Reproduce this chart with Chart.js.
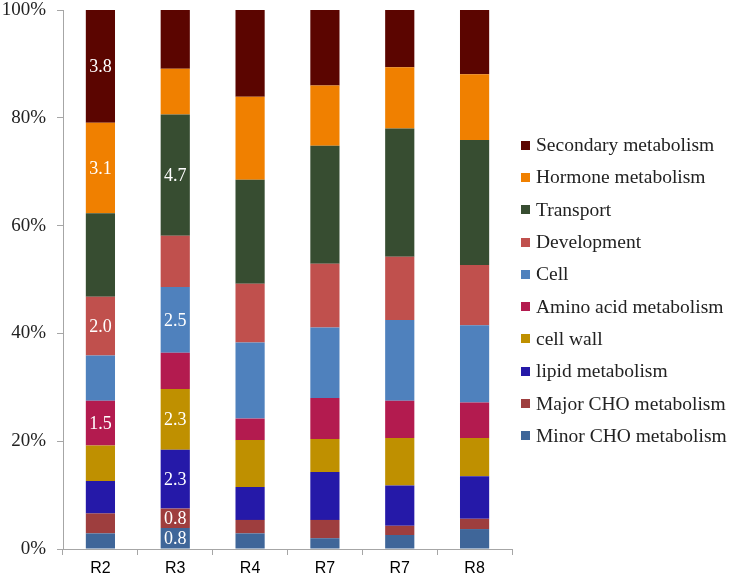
<!DOCTYPE html>
<html>
<head>
<meta charset="utf-8">
<title>Functional categories by sample</title>
<script src="https://cdn.jsdelivr.net/npm/chart.js@4/dist/chart.umd.min.js"></script>
<style>
    body { margin: 0; background: #fff; }
    #wrap { position: relative; width: 731px; height: 576px; }
    #legend { position: absolute; left: 521px; top: 129px; font-family: "Liberation Serif", serif; font-size: 19.5px; color: #222; }
    .legend-item { height: 32.3px; display: flex; align-items: center; white-space: nowrap; }
    .legend-box { width: 9px; height: 9px; margin-right: 6px; flex: none; }
</style>
</head>
<body>
<div id="wrap">
    <canvas id="chart" width="731" height="576"></canvas>
    <div id="legend"></div>
</div>
<script>
// samples on the x axis
const categories = ['R2', 'R3', 'R4', 'R7', 'R7', 'R8'];

// share of each category per sample (%)
const minorCHO   = [2.9, 3.9, 2.9, 2.0, 2.6, 3.7];
const majorCHO   = [3.7, 3.6, 2.5, 3.4, 1.7, 1.9];
const lipid      = [6.0, 10.9, 6.1, 8.9, 7.5, 7.9];
const cellWall   = [6.6, 11.3, 8.7, 6.1, 8.8, 7.1];
const aminoAcid  = [8.3, 6.7, 4.0, 7.6, 6.9, 6.6];
const cell       = [8.4, 12.2, 14.1, 13.1, 15.0, 14.3];
const development = [10.9, 9.5, 10.9, 11.8, 11.7, 11.2];
const transport  = [15.5, 22.5, 19.3, 21.9, 23.8, 23.2];
const hormone    = [16.8, 8.5, 15.4, 11.2, 11.4, 12.2];
const secondary  = [20.9, 10.9, 16.1, 14.0, 10.6, 11.9];

const yTicks = [0, 20, 40, 60, 80, 100];

// value labels printed inside some segments: [series, sample, text]
const segmentLabels = [
    ['Secondary metabolism', 0, '3.8'],
    ['Hormone metabolism', 0, '3.1'],
    ['Development', 0, '2.0'],
    ['Amino acid metabolism', 0, '1.5'],
    ['Transport', 1, '4.7'],
    ['Cell', 1, '2.5'],
    ['cell wall', 1, '2.3'],
    ['lipid metabolism', 1, '2.3'],
    ['Major CHO metabolism', 1, '0.8'],
    ['Minor CHO metabolism', 1, '0.8']
];

// bottom to top
const series = [
    { label: 'Minor CHO metabolism', data: minorCHO, color: '#3F6699' },
    { label: 'Major CHO metabolism', data: majorCHO, color: '#9E3E3E' },
    { label: 'lipid metabolism', data: lipid, color: '#2519A8' },
    { label: 'cell wall', data: cellWall, color: '#BF9000' },
    { label: 'Amino acid metabolism', data: aminoAcid, color: '#B31B4F' },
    { label: 'Cell', data: cell, color: '#4F81BD' },
    { label: 'Development', data: development, color: '#C0504D' },
    { label: 'Transport', data: transport, color: '#374D31' },
    { label: 'Hormone metabolism', data: hormone, color: '#F08000' },
    { label: 'Secondary metabolism', data: secondary, color: '#5B0500' }
];

const segmentLabelPlugin = {
    id: 'segmentLabels',
    afterDatasetsDraw(chart) {
        const ctx = chart.ctx;
        ctx.save();
        ctx.fillStyle = '#fff';
        ctx.font = '18px "Liberation Serif", serif';
        ctx.textAlign = 'center';
        ctx.textBaseline = 'middle';
        segmentLabels.forEach(([name, idx, text]) => {
            const dsIndex = chart.data.datasets.findIndex(d => d.label === name);
            const el = chart.getDatasetMeta(dsIndex).data[idx];
            const { x, y, base } = el.getProps(['x', 'y', 'base'], true);
            ctx.fillText(text, x, (y + base) / 2 + 1);
        });
        ctx.restore();
    }
};

function buildLegend() {
    const legend = document.getElementById('legend');
    legend.innerHTML = series.slice().reverse().map(s => `
        <div class="legend-item"><span class="legend-box" style="background:${s.color}"></span>${s.label}</div>
    `).join('');
}

const axisGray = '#a6a6a6';

new Chart(document.getElementById('chart').getContext('2d'), {
    type: 'bar',
    data: {
        labels: categories,
        datasets: series.map(s => ({
            label: s.label,
            data: s.data,
            backgroundColor: s.color,
            borderWidth: 0,
            barPercentage: 0.39,
            categoryPercentage: 1
        }))
    },
    options: {
        responsive: false,
        animation: false,
        layout: { autoPadding: false, padding: { top: 10, right: 219, bottom: 0, left: 0 } },
        plugins: {
            legend: { display: false },
            tooltip: { enabled: false }
        },
        scales: {
            x: {
                stacked: true,
                grid: { drawOnChartArea: false, tickLength: 6, color: axisGray },
                border: { color: axisGray },
                ticks: {
                    color: '#000',
                    padding: 4,
                    font: { family: '"Liberation Sans", Arial, sans-serif', size: 16 }
                },
                afterFit(scale) { scale.height = 27; scale.paddingLeft = 0; scale.paddingRight = 0; }
            },
            y: {
                stacked: true,
                min: 0,
                max: 100,
                afterBuildTicks(scale) { scale.ticks = yTicks.map(v => ({ value: v })); },
                grid: { drawOnChartArea: false, tickLength: 6, color: axisGray },
                border: { color: axisGray },
                ticks: {
                    color: '#222',
                    padding: 11,
                    font: { family: '"Liberation Serif", "Times New Roman", serif', size: 19 },
                    callback: v => v + '%'
                },
                afterFit(scale) { scale.width = 63; scale.paddingTop = 0; scale.paddingBottom = 0; }
            }
        }
    },
    plugins: [segmentLabelPlugin]
});

buildLegend();
</script>
</body>
</html>
